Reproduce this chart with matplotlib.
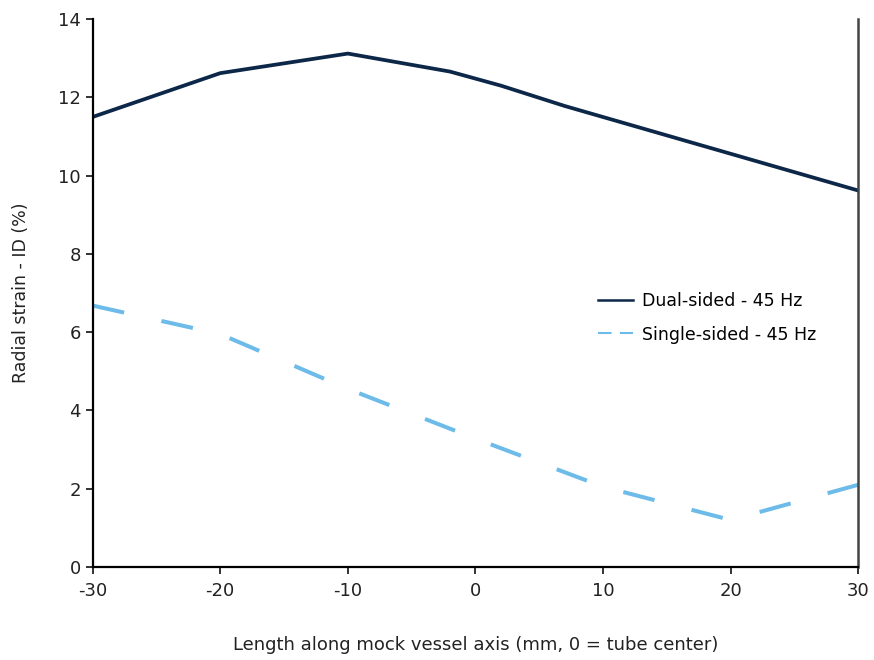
import matplotlib.pyplot as plt
from matplotlib.lines import Line2D

plt.rcParams['axes.unicode_minus'] = False

# values
dual_x = [-30, -20, -15, -10, -2, 2, 7, 30]
dual_y = [11.5, 12.62, 12.87, 13.12, 12.66, 12.3, 11.78, 9.62]

single_x = [-30, -20, -10, 0, 10, 20, 30]
single_y = [6.68, 5.95, 4.55, 3.28, 2.05, 1.2, 2.1]

labels = ['Dual-sided - 45 Hz', 'Single-sided - 45 Hz']
xticks = [-30, -20, -10, 0, 10, 20, 30]
yticks = [0, 2, 4, 6, 8, 10, 12, 14]

dark = '#0c2748'
light = '#6dbbe9'

fig = plt.figure(figsize=(8.74, 6.6), dpi=100)
ax = fig.add_axes([0.106, 0.141, 0.876, 0.830])

ax.plot(dual_x, dual_y, color=dark, lw=2.7)
ax.plot(single_x, single_y, color=light, lw=2.9, dashes=(8, 9.5))

ax.set_xlim(-30, 30)
ax.set_ylim(0, 14)
ax.set_xticks(xticks)
ax.set_yticks(yticks)

ax.spines['top'].set_visible(False)
ax.spines['left'].set_linewidth(1.6)
ax.spines['bottom'].set_linewidth(1.6)
ax.spines['right'].set_linewidth(1.8)
ax.spines['right'].set_color('#444444')

ax.tick_params(axis='both', direction='out', length=5, width=1.3,
               labelsize=13, colors='#222222')
ax.tick_params(axis='x', pad=6)

ax.set_xlabel('Length along mock vessel axis (mm, 0 = tube center)',
              fontsize=13, color='#222222', labelpad=26)
ax.set_ylabel('Radial strain - ID (%)', fontsize=12.5, color='#222222',
              labelpad=20)

# legend handles: the dashed one gets shorter dashes, like the original
handles = [Line2D([], [], color=dark, lw=1.8),
           Line2D([], [], color=light, lw=1.5, dashes=(6.5, 4))]
ax.legend(handles, labels, loc='center left', bbox_to_anchor=(0.64, 0.455),
          frameon=False, fontsize=12.5, handlelength=2.0, labelspacing=0.9,
          handletextpad=0.5)

fig.savefig('out.png', dpi=100)
